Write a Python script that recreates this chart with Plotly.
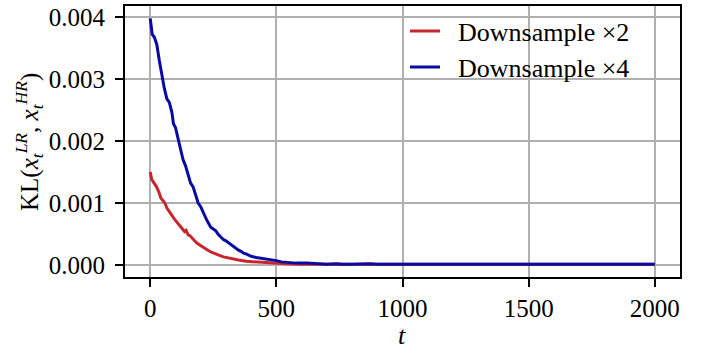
import plotly.graph_objects as go

# Downsample x2 (red)
t_x2 = [0, 6, 14, 24, 34, 42, 50, 58, 66, 76, 86, 96, 106, 116, 126, 136, 142, 150, 158, 166,
        176, 186, 196, 210, 224, 240, 256, 272, 290, 310, 330, 350, 380, 410, 450, 490, 540,
        600, 700, 800, 950, 1000, 1150, 1200, 1400, 1600, 1800, 2000]
kl_x2 = [0.00150, 0.00138, 0.00133, 0.00127, 0.00118, 0.00108, 0.00104, 0.00100, 0.00092,
         0.00085, 0.00080, 0.00074, 0.00069, 0.00063, 0.00058, 0.00054, 0.00056, 0.00049,
         0.00047, 0.00043, 0.00039, 0.00035, 0.00032, 0.00028, 0.00025, 0.00021, 0.00018,
         0.00016, 0.00013, 0.00011, 0.00009, 0.00008, 0.00006, 0.00005, 0.00004, 0.00003,
         0.00002, 0.00001, 0.00001, 0.00001, 0.00001, 0.00001, 0.00001, 0.00001, 0.00001,
         0.00001, 0.00001, 0.00001]

# Downsample x4 (blue)
t_x4 = [0, 8, 16, 26, 36, 46, 56, 66, 76, 86, 92, 100, 110, 120, 130, 140, 150, 160, 170, 180,
        190, 200, 210, 220, 230, 240, 250, 260, 270, 280, 290, 300, 310, 320, 330, 340, 350,
        360, 370, 380, 390, 400, 420, 440, 460, 480, 500, 520, 550, 580, 620, 660, 700, 740,
        760, 800, 870, 900, 1000, 1100, 1190, 1220, 1300, 1400, 1420, 1500, 1520, 1600, 1800,
        2000]
kl_x4 = [0.00398, 0.00372, 0.00368, 0.00356, 0.00330, 0.00305, 0.00285, 0.00268, 0.00262,
         0.00246, 0.00228, 0.00222, 0.00205, 0.00186, 0.00170, 0.00160, 0.00145, 0.00132,
         0.00126, 0.00114, 0.00100, 0.00094, 0.00084, 0.00076, 0.00068, 0.00061, 0.00058,
         0.00055, 0.00049, 0.00045, 0.00041, 0.00039, 0.00036, 0.00033, 0.00029, 0.00026,
         0.00024, 0.00022, 0.00019, 0.00018, 0.00016, 0.00014, 0.00012, 0.00011, 0.00009,
         0.00008, 0.00007, 0.00005, 0.00004, 0.00003, 0.00003, 0.00002, 0.00001, 0.00002,
         0.00001, 0.00001, 0.00002, 0.00001, 0.00001, 0.00001, 0.00002, 0.00001, 0.00001,
         0.00002, 0.00001, 0.00002, 0.00001, 0.00001, 0.00001, 0.00001]

names = ["Downsample ×2", "Downsample ×4"]
colors = ["#c8262f", "#0a0aa4"]
x_ticks = [0, 500, 1000, 1500, 2000]
y_ticks = [0.000, 0.001, 0.002, 0.003, 0.004]
y_tick_labels = ["0.000", "0.001", "0.002", "0.003", "0.004"]
x_title = "<i>t</i>"
y_title = ("KL(<i>x</i><sub><i>t</i></sub><sup><i>LR</i></sup>, "
           "<i>x</i><sub><i>t</i></sub><sup><i>HR</i></sup>)")

FONT = "Liberation Serif"
W, H = 709, 350
L, R, T, B = 125, 29, 6, 73
PW, PH = W - L - R, H - T - B

fig = go.Figure()
fig.add_trace(go.Scatter(x=t_x2, y=kl_x2, mode="lines", name="&nbsp;&nbsp;" + names[0],
                         line=dict(color=colors[0], width=3), legend="legend"))
fig.add_trace(go.Scatter(x=t_x4, y=kl_x4, mode="lines", name="&nbsp;&nbsp;" + names[1],
                         line=dict(color=colors[1], width=3), legend="legend2"))

axis_common = dict(
    showline=True, linecolor="black", linewidth=2, mirror=True,
    ticks="outside", ticklen=8, tickwidth=2, tickcolor="black",
    showgrid=True, gridcolor="#b0b0b0", gridwidth=2, zeroline=False,
    automargin=False,
    tickfont=dict(family=FONT, size=25, color="black"),
)

leg_common = dict(font=dict(family=FONT, size=26, color="black"),
                  bgcolor="rgba(0,0,0,0)", borderwidth=0,
                  xanchor="left", yanchor="middle", itemwidth=30)

fig.update_layout(
    template="none",
    width=W, height=H,
    margin=dict(l=L, r=R, t=T, b=B),
    paper_bgcolor="white", plot_bgcolor="white",
    font=dict(family=FONT, color="black"),
    showlegend=True,
    xaxis=dict(range=[-100, 2100], tickvals=x_ticks, ticktext=[str(v) for v in x_ticks],
               **axis_common),
    yaxis=dict(range=[-0.000194, 0.00418], tickvals=y_ticks, ticktext=y_tick_labels,
               ticklabelstandoff=5, **axis_common),
    legend=dict(x=(405 - L) / PW, y=1 - (31 - T) / PH, visible=True, **leg_common),
    legend2=dict(x=(405 - L) / PW, y=1 - (67 - T) / PH, visible=True, **leg_common),
    annotations=[
        dict(text=x_title, xref="paper", yref="paper", x=(402 - L) / PW, y=1 - (335 - T) / PH,
             xanchor="center", yanchor="middle", showarrow=False,
             font=dict(family=FONT, size=26, color="black")),
        dict(text=y_title, xref="paper", yref="paper", x=(29 - L) / PW, y=1 - (142 - T) / PH,
             xanchor="center", yanchor="middle", showarrow=False, textangle=-90,
             font=dict(family=FONT, size=25, color="black")),
    ],
)

fig.write_html("out.html", config={"displayModeBar": False},
               post_script="document.body.style.margin='0';")
